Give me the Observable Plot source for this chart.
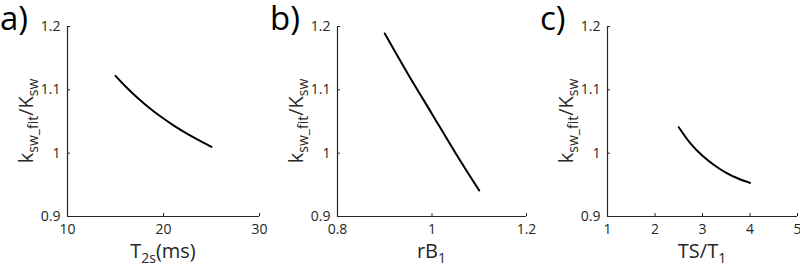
<!DOCTYPE html>
<html>
<head>
<meta charset="utf-8">
<script src="https://cdn.jsdelivr.net/npm/d3@7"></script>
<script src="https://cdn.jsdelivr.net/npm/@observablehq/plot@0.6"></script>
<style>
  html, body { margin: 0; padding: 0; background: #fff; }
  #fig { position: relative; width: 800px; height: 269px; overflow: hidden; font-family: "Open Sans", sans-serif; }
  .panel { position: absolute; top: 0; }
</style>
</head>
<body>
<div id="fig"></div>
<script>
// ---- data ----
const t2s = [15, 16, 17, 18, 19, 20, 21, 22, 23, 24, 25];
const kA  = [1.1220, 1.1060, 1.0914, 1.0781, 1.0659, 1.0547, 1.0444, 1.0349, 1.0261, 1.0178, 1.0100];

const rB1 = [0.9, 0.95, 1.0, 1.05, 1.1];
const kB  = [1.189, 1.124, 1.062, 1.000, 0.941];

const tsT1 = [2.5, 2.75, 3.0, 3.25, 3.5, 3.75, 4.0];
const kC   = [1.041, 1.015, 0.996, 0.981, 0.969, 0.960, 0.953];

const yTicks = [0.9, 1, 1.1, 1.2];
const xTicksA = [10, 20, 30];
const xTicksB = [0.8, 1, 1.2];
const xTicksC = [1, 2, 3, 4, 5];

const panelLabels = ["a)", "b)", "c)"];
// [text, isSubscript]
const yLabel  = [["k", 0], ["sw_fit", 1], ["/K", 0], ["sw", 1]];
const xLabelA = [["T", 0], ["2s", 1], ["(ms)", 0]];
const xLabelB = [["rB", 0], ["1", 1]];
const xLabelC = [["TS/T", 0], ["1", 1]];

const panels = [
  {left: 0,   width: 270, mr: 11, xs: t2s,  ys: kA, xdom: [10, 30],   xticks: xTicksA, xlab: xLabelA, lab: panelLabels[0]},
  {left: 270, width: 270, mr: 14, xs: rB1,  ys: kB, xdom: [0.8, 1.2], xticks: xTicksB, xlab: xLabelB, lab: panelLabels[1]},
  {left: 540, width: 260, mr: 3,  xs: tsT1, ys: kC, xdom: [1, 5],     xticks: xTicksC, xlab: xLabelC, lab: panelLabels[2]}
];

const H = 269, ML = 67, MT = 26, MB = 53;
const ink = "#262626";

function addRich(sel, parts, main, sub, shift) {
  parts.forEach(([s, isSub], i) => {
    const prev = i > 0 ? parts[i - 1][1] : 0;
    const t = sel.append("tspan").text(s).attr("font-size", isSub ? sub : main);
    const dy = (isSub ? shift : 0) - (prev ? shift : 0);
    if (dy !== 0) t.attr("dy", dy);
  });
}

const fig = document.getElementById("fig");
panels.forEach(p => {
  const data = p.xs.map((x, i) => ({x, y: p.ys[i]}));
  const svg = Plot.plot({
    width: p.width, height: H,
    marginLeft: ML, marginRight: p.mr, marginTop: MT, marginBottom: MB,
    style: {fontFamily: "Open Sans, sans-serif", fontSize: "14px", color: ink, background: "transparent", overflow: "visible"},
    x: {domain: p.xdom, ticks: p.xticks, tickFormat: d => String(d), label: null},
    y: {domain: [0.9, 1.2], ticks: yTicks, tickFormat: d => String(d), label: null},
    marks: [
      Plot.axisX({ticks: p.xticks, tickFormat: d => String(d), tickSize: -3, tickPadding: 11, label: null, stroke: ink}),
      Plot.axisY({ticks: yTicks, tickFormat: d => String(d), tickSize: -3, tickPadding: 10, label: null, stroke: ink}),
      Plot.ruleX([p.xdom[0]], {stroke: ink, strokeWidth: 1.2}),
      Plot.ruleY([0.9], {stroke: ink, strokeWidth: 1.2}),
      Plot.line(data, {x: "x", y: "y", stroke: "#000", strokeWidth: 2, curve: "natural"})
    ]
  });
  const s = d3.select(svg);
  // x label
  const cx = ML + (p.width - ML - p.mr) / 2;
  const xl = s.append("text").attr("x", cx).attr("y", 258).attr("text-anchor", "middle")
    .attr("fill", ink).attr("font-family", "Open Sans, sans-serif");
  addRich(xl, p.xlab, 20, 14, 5);
  // y label
  const cy = MT + (H - MT - MB) / 2;
  const yl = s.append("text").attr("transform", `translate(33,${cy}) rotate(-90)`).attr("text-anchor", "middle")
    .attr("fill", ink).attr("font-family", "Open Sans, sans-serif");
  addRich(yl, yLabel, 20, 14, 5);
  // panel label
  s.append("text").attr("x", 0).attr("y", 30).attr("font-size", 33).attr("text-anchor", "start")
    .attr("fill", "#000").attr("font-family", "Open Sans, sans-serif").text(p.lab);

  const div = document.createElement("div");
  div.className = "panel";
  div.style.left = p.left + "px";
  div.style.width = p.width + "px";
  div.style.height = H + "px";
  div.appendChild(svg);
  fig.appendChild(div);
});
</script>
</body>
</html>
